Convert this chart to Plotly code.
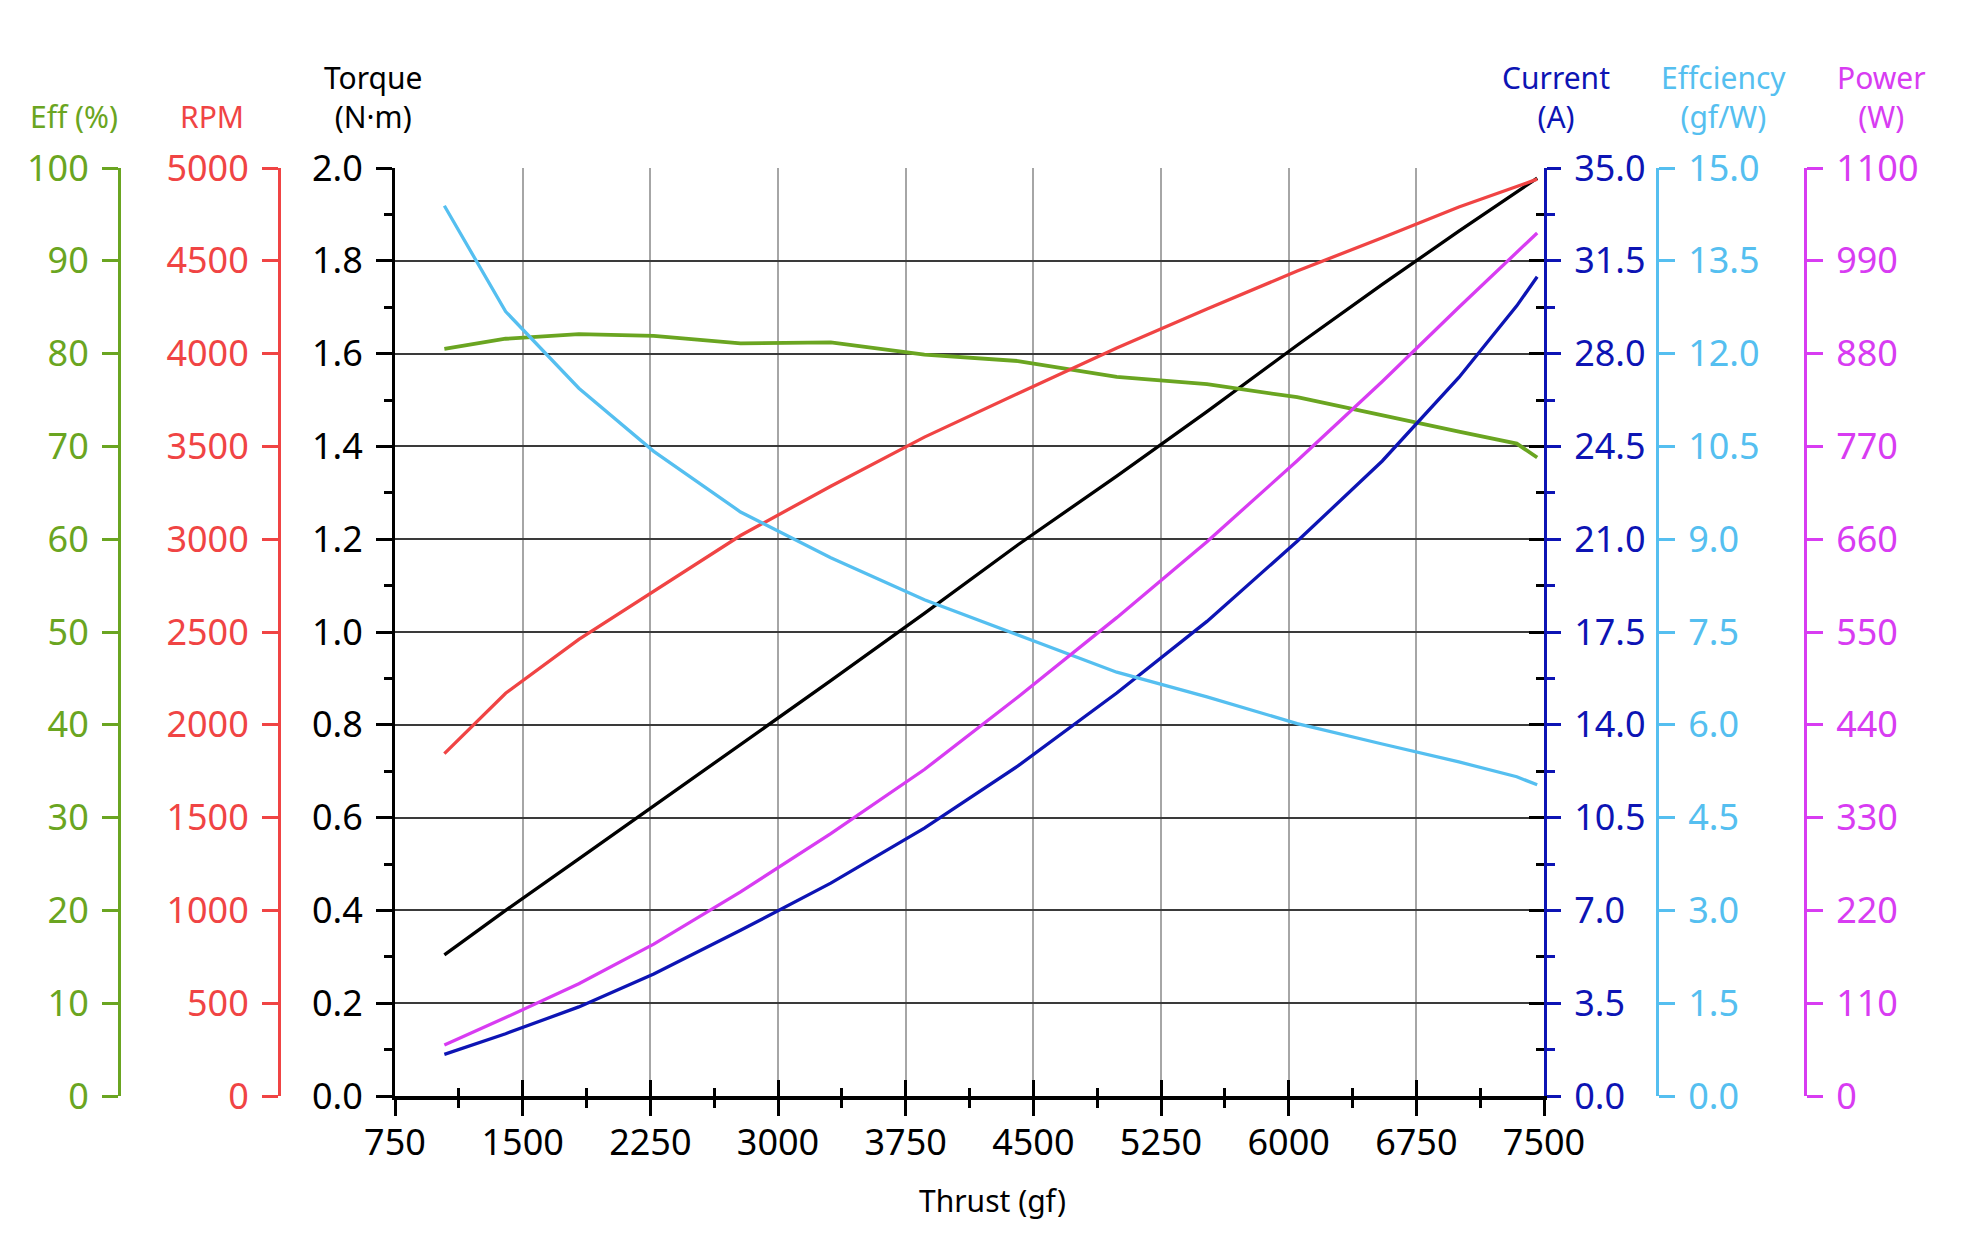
import plotly.graph_objects as go

# ---------------- data ----------------
thrust = [1040, 1400, 1830, 2270, 2780, 3310, 3860, 4410, 4990, 5520, 6050, 6550, 7000, 7340, 7460]
eff_pct = [80.5, 81.6, 82.1, 81.9, 81.1, 81.2, 79.9, 79.2, 77.5, 76.7, 75.3, 73.3, 71.6, 70.3, 68.8]
rpm = [1845, 2170, 2460, 2720, 3020, 3285, 3550, 3785, 4030, 4240, 4445, 4624, 4790, 4900, 4940]
torque = [0.304, 0.400, 0.511, 0.625, 0.757, 0.895, 1.040, 1.188, 1.336, 1.475, 1.618, 1.749, 1.864, 1.949, 1.978]
current = [1.57, 2.35, 3.36, 4.60, 6.25, 8.03, 10.1, 12.45, 15.2, 17.9, 20.92, 23.95, 27.1, 29.8, 30.9]
eff_gfw = [14.39, 12.68, 11.44, 10.42, 9.44, 8.70, 8.02, 7.45, 6.85, 6.45, 6.02, 5.69, 5.40, 5.16, 5.03]
power = [60.5, 93, 133, 180, 242, 311, 387, 473, 567, 657, 753, 847, 935, 1001, 1023]

x_ticks = [750, 1500, 2250, 3000, 3750, 4500, 5250, 6000, 6750, 7500]

GREEN = "#6aa521"
RED = "#f04444"
BLACK = "#000000"
DBLUE = "#0d14b4"
LBLUE = "#55bff0"
MAG = "#d83cf2"
FONT = "Noto Sans"
TF = 36   # tick font size
AF = 30   # axis title size

W, H = 1980, 1242
OFFX, OFFY = 8, 12   # page offset of the figure inside the html page
PL, PR, PT, PB = 395 - OFFX, 1544 - OFFX, 172 - OFFY, 1100 - OFFY   # plot area in figure px


def px_x(v):
    return (v - OFFX) / W


def px_y(v):
    return (PB - (v - OFFY)) / (PB - PT)


fig = go.Figure()

fig.add_trace(go.Scatter(x=thrust, y=eff_pct, mode="lines", line=dict(color=GREEN, width=3.8), yaxis="y2", showlegend=False))
fig.add_trace(go.Scatter(x=thrust, y=rpm, mode="lines", line=dict(color=RED, width=3.3), yaxis="y3", showlegend=False))
fig.add_trace(go.Scatter(x=thrust, y=torque, mode="lines", line=dict(color=BLACK, width=3.3), yaxis="y", showlegend=False))
fig.add_trace(go.Scatter(x=thrust, y=current, mode="lines", line=dict(color=DBLUE, width=3.3), yaxis="y4", showlegend=False))
fig.add_trace(go.Scatter(x=thrust, y=eff_gfw, mode="lines", line=dict(color=LBLUE, width=3.3), yaxis="y5", showlegend=False))
fig.add_trace(go.Scatter(x=thrust, y=power, mode="lines", line=dict(color=MAG, width=3.3), yaxis="y6", showlegend=False))
# helper (invisible) traces so overlay axes are drawn
fig.add_trace(go.Scatter(x=[None], y=[None], xaxis="x2", yaxis="y7", showlegend=False, hoverinfo="skip"))
fig.add_trace(go.Scatter(x=[None], y=[None], xaxis="x", yaxis="y8", showlegend=False, hoverinfo="skip"))

dom = [PL / W, PR / W]

common_y = dict(showgrid=False, zeroline=False, tickwidth=3, ticklen=16, ticklabelstandoff=6,
                linewidth=3, showline=True, automargin=False)

fig.update_layout(
    width=W, height=H,
    margin=dict(l=0, r=0, t=PT, b=H - PB, pad=0, autoexpand=False),
    plot_bgcolor="white", paper_bgcolor="white",
    font=dict(family=FONT, size=TF, color=BLACK),
    xaxis=dict(domain=dom, range=[750, 7500], tickvals=x_ticks, ticks="outside", ticklen=16, tickwidth=3,
               tickcolor=BLACK, minor=dict(ticks="outside", dtick=375, tick0=750, ticklen=8, tickwidth=2.5, tickcolor=BLACK),
               showline=True, linewidth=4, linecolor=BLACK, showgrid=True, gridcolor="#a6a6a6", gridwidth=1.5,
               zeroline=False, tickfont=dict(size=TF, color=BLACK), ticklabelstandoff=-4, anchor="y",
               automargin=False),
    xaxis2=dict(domain=dom, range=[750, 7500], overlaying="x", anchor="y7", side="bottom", tickvals=x_ticks,
                ticks="inside", ticklen=16, tickwidth=3, tickcolor=BLACK,
                minor=dict(ticks="inside", dtick=375, tick0=750, ticklen=8, tickwidth=2.5, tickcolor=BLACK),
                showticklabels=False, showline=False, showgrid=False, zeroline=False, automargin=False),
    yaxis=dict(range=[0, 2.0], dtick=0.2, tick0=0, tickformat=".1f", ticks="outside", side="left", anchor="x",
               linecolor=BLACK, tickcolor=BLACK, tickfont=dict(size=TF, color=BLACK),
               minor=dict(ticks="outside", dtick=0.1, ticklen=8, tickwidth=2.5, tickcolor=BLACK), **common_y),
    yaxis2=dict(range=[0, 100], dtick=10, tick0=0, ticks="outside", side="left", overlaying="y", anchor="free",
                position=px_x(119), linecolor=GREEN, tickcolor=GREEN, tickfont=dict(size=TF, color=GREEN), **common_y),
    yaxis3=dict(range=[0, 5000], dtick=500, tick0=0, ticks="outside", side="left", overlaying="y", anchor="free",
                position=px_x(279), linecolor=RED, tickcolor=RED, tickfont=dict(size=TF, color=RED), **common_y),
    yaxis4=dict(range=[0, 35], dtick=3.5, tick0=0, tickformat=".1f", ticks="outside", side="right", overlaying="y",
                anchor="x", linecolor=DBLUE, tickcolor=DBLUE, tickfont=dict(size=TF, color=DBLUE),
                minor=dict(ticks="outside", dtick=1.75, ticklen=8, tickwidth=2.5, tickcolor=DBLUE),
                **{**common_y, "ticklen": 14}),
    yaxis5=dict(range=[0, 15], dtick=1.5, tick0=0, tickformat=".1f", ticks="outside", side="right", overlaying="y",
                anchor="free", position=px_x(1657), linecolor=LBLUE, tickcolor=LBLUE,
                tickfont=dict(size=TF, color=LBLUE), **common_y),
    yaxis6=dict(range=[0, 1100], dtick=110, tick0=0, ticks="outside", side="right", overlaying="y",
                anchor="free", position=px_x(1805), linecolor=MAG, tickcolor=MAG,
                tickfont=dict(size=TF, color=MAG), **common_y),
    yaxis7=dict(range=[0, 2.0], dtick=0.2, tick0=0, ticks="inside", side="right", overlaying="y", anchor="x2",
                ticklen=15, tickwidth=3, tickcolor=BLACK,
                minor=dict(ticks="inside", dtick=0.1, ticklen=8, tickwidth=2.5, tickcolor=BLACK),
                showticklabels=False, showline=False, showgrid=False, zeroline=False, automargin=False),
    yaxis8=dict(range=[0, 2.0], tickvals=[0.2, 0.4, 0.6, 0.8, 1.0, 1.2, 1.4, 1.6, 1.8], overlaying="y", anchor="x",
                side="left", showticklabels=False, ticks="", showline=False, showgrid=True,
                gridcolor="#3a3a3a", gridwidth=1.5, zeroline=False, automargin=False),
)

# axis titles: (text, centre x, centre y) in screen px
titles = [
    ("Eff (%)", 74, 121, GREEN),
    ("RPM", 212, 121, RED),
    ("Torque<br>(N·m)", 373, 101, BLACK),
    ("Current<br>(A)", 1556, 101, DBLUE),
    ("Effciency<br>(gf/W)", 1723, 101, LBLUE),
    ("Power<br>(W)", 1881, 101, MAG),
    ("Thrust (gf)", 992, 1204, BLACK),
]
for text, xx, yy, col in titles:
    fig.add_annotation(text=text, x=px_x(xx), y=px_y(yy), xref="paper", yref="paper",
                       xanchor="center", yanchor="middle", showarrow=False,
                       font=dict(family=FONT, size=AF, color=col), align="center")

fig.write_html("out.html")
